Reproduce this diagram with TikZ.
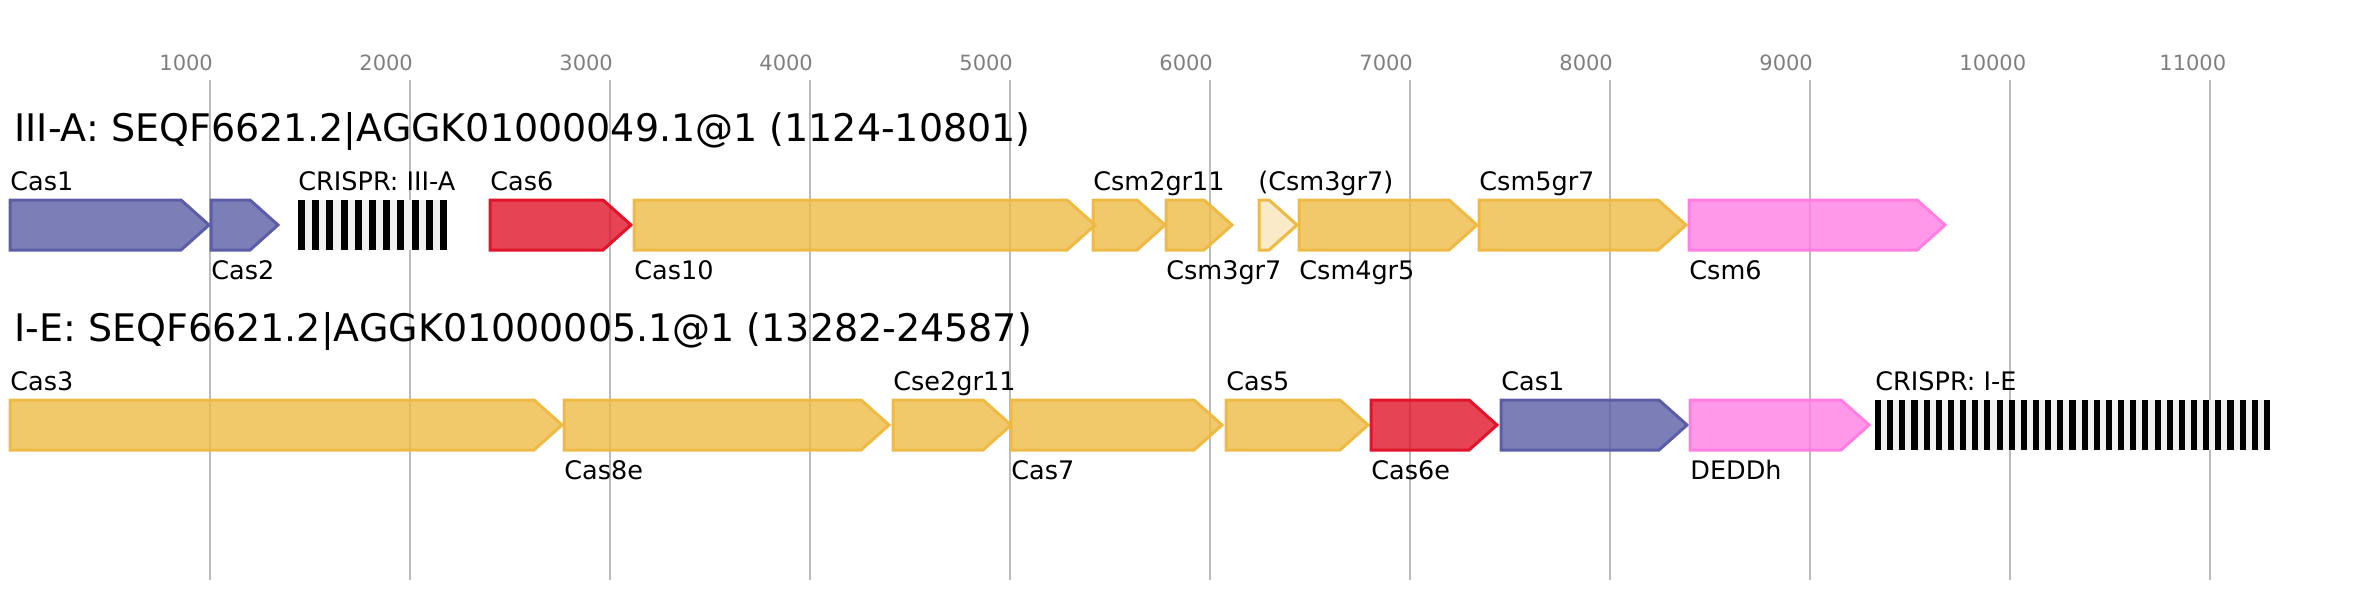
\documentclass[tikz,border=0pt]{standalone}
\usepackage{fontspec}
\setmainfont{DejaVu Sans}

\definecolor{casblue}{HTML}{5B5EA6}
\definecolor{casred}{HTML}{E0142A}
\definecolor{casyellow}{HTML}{EEBA45}
\definecolor{caspink}{HTML}{FF7EE2}
\definecolor{gridgray}{HTML}{BBBBBB}
\definecolor{tickgray}{HTML}{808080}
\definecolor{spacergray}{HTML}{F0F0F0}

% gene arrow: style, start, end, row centre
\newcommand{\genearrow}[4]{%
  \pgfmathsetmacro{\shoulder}{max(#2,#3-28)}%
  \draw[#1] (#2,#4-25) -- (\shoulder,#4-25) -- (#3,#4) -- (\shoulder,#4+25) -- (#2,#4+25) -- cycle;}

% crispr array: start, end, repeats, row centre
\newcommand{\crisprarray}[4]{%
  \fill[spacergray] (#1,#4-25) rectangle (#2,#4+25);
  \pgfmathsetmacro{\period}{(#2-#1)/(#3-0.5)}%
  \foreach \i in {1,...,#3} {\fill[black] ({#1+(\i-1)*\period},#4-25) rectangle ++(\period/2,50);}}

\begin{document}
\begin{tikzpicture}[x=0.5pt, y=-0.5pt,
    gridline/.style={draw=gridgray, line width=1pt},
    ticklabel/.style={anchor=base west, inner sep=0pt, text=tickgray, font=\fontsize{10.5}{12}\selectfont},
    title/.style={anchor=base west, inner sep=0pt, font=\fontsize{19}{22}\selectfont},
    genelabel/.style={anchor=base west, inner sep=0pt, font=\fontsize{12.75}{15}\selectfont},
    gene/.style={line width=1.5pt, line join=miter, fill opacity=0.8},
    bluegene/.style={gene, draw=casblue, fill=casblue},
    redgene/.style={gene, draw=casred, fill=casred},
    yellowgene/.style={gene, draw=casyellow, fill=casyellow},
    palegene/.style={gene, draw=casyellow, fill=casyellow, fill opacity=0.3},
    pinkgene/.style={gene, draw=caspink, fill=caspink}]
  \useasboundingbox (0,0) rectangle (2361,600);

  % scale
  \foreach \k in {1,...,11} {
    \draw[gridline] (10+200*\k,80) -- (10+200*\k,580);
    \node[ticklabel] (tick\k) at (10+200*\k-51,70) {\k000};
  }

  % III-A locus
  \node[title] (titleA) at (14,141) {III-A: SEQF6621.2|AGGK01000049.1@1 (1124-10801)};
  \genearrow{bluegene}{10}{209}{225}
  \genearrow{bluegene}{211}{278}{225}
  \crisprarray{298}{447}{11}{225}
  \genearrow{redgene}{490}{631}{225}
  \genearrow{yellowgene}{634}{1095}{225}
  \genearrow{yellowgene}{1093}{1165}{225}
  \genearrow{yellowgene}{1166}{1232}{225}
  \genearrow{palegene}{1259}{1297}{225}
  \genearrow{yellowgene}{1299}{1477}{225}
  \genearrow{yellowgene}{1479}{1686}{225}
  \genearrow{pinkgene}{1689}{1945}{225}

  \node[genelabel] (a1) at (10,190) {Cas1};
  \node[genelabel] (a2) at (211,279) {Cas2};
  \node[genelabel] (a3) at (298,190) {CRISPR: III-A};
  \node[genelabel] (a4) at (490,190) {Cas6};
  \node[genelabel] (a5) at (634,279) {Cas10};
  \node[genelabel] (a6) at (1093,190) {Csm2gr11};
  \node[genelabel] (a7) at (1166,279) {Csm3gr7};
  \node[genelabel] (a8) at (1258,190) {(Csm3gr7)};
  \node[genelabel] (a9) at (1299,279) {Csm4gr5};
  \node[genelabel] (a10) at (1479,190) {Csm5gr7};
  \node[genelabel] (a11) at (1689,279) {Csm6};

  % I-E locus
  \node[title] (titleE) at (14,341) {I-E: SEQF6621.2|AGGK01000005.1@1 (13282-24587)};
  \genearrow{yellowgene}{10}{562}{425}
  \genearrow{yellowgene}{564}{889}{425}
  \genearrow{yellowgene}{893}{1011}{425}
  \genearrow{yellowgene}{1011}{1222}{425}
  \genearrow{yellowgene}{1226}{1368}{425}
  \genearrow{redgene}{1371}{1497}{425}
  \genearrow{bluegene}{1501}{1687}{425}
  \genearrow{pinkgene}{1690}{1869}{425}
  \crisprarray{1875}{2270}{33}{425}

  \node[genelabel] (e1) at (10,390) {Cas3};
  \node[genelabel] (e2) at (564,479) {Cas8e};
  \node[genelabel] (e3) at (893,390) {Cse2gr11};
  \node[genelabel] (e4) at (1011,479) {Cas7};
  \node[genelabel] (e5) at (1226,390) {Cas5};
  \node[genelabel] (e6) at (1371,479) {Cas6e};
  \node[genelabel] (e7) at (1501,390) {Cas1};
  \node[genelabel] (e8) at (1690,479) {DEDDh};
  \node[genelabel] (e9) at (1875,390) {CRISPR: I-E};
\end{tikzpicture}
\end{document}
